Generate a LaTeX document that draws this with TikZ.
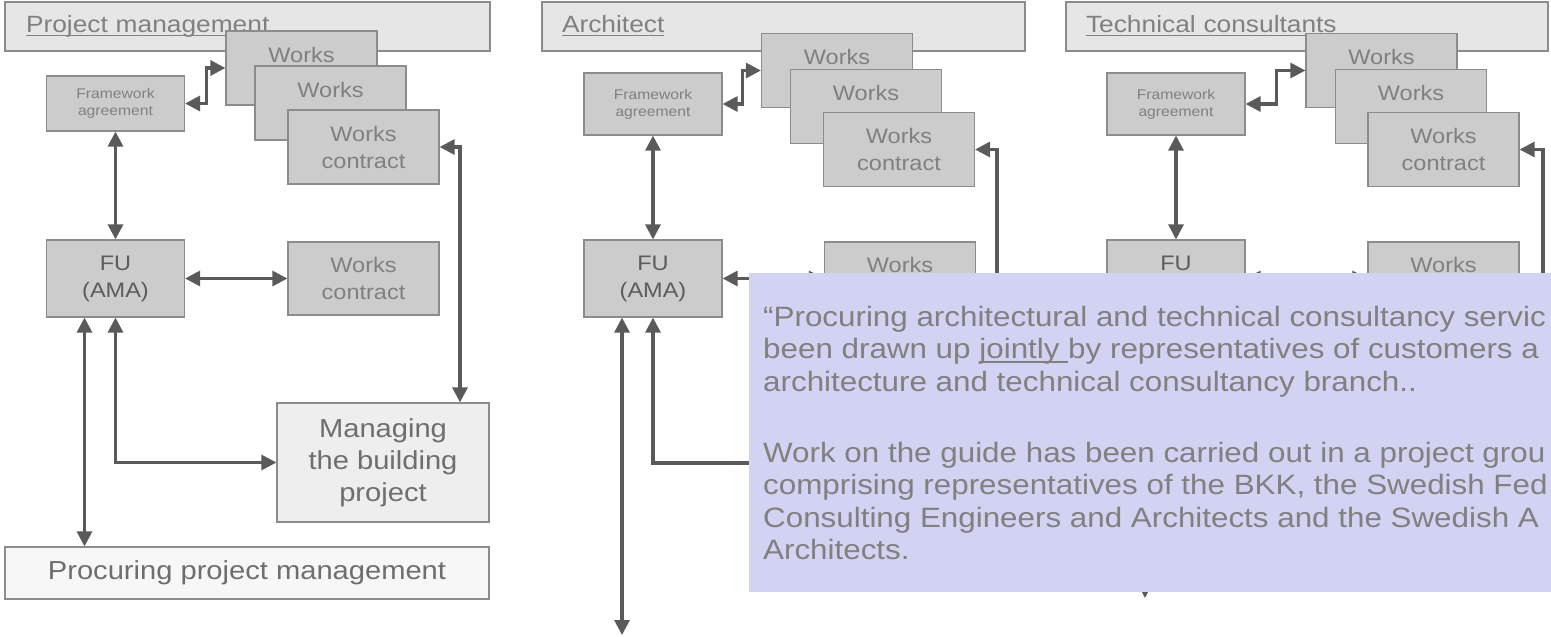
\documentclass[tikz,border=0pt]{standalone}
\usepackage{fontspec}
\setmainfont[FakeStretch=1.12]{Liberation Sans}
\usetikzlibrary{arrows.meta}
\definecolor{hdrfill}{HTML}{E6E6E6}
\definecolor{boxfill}{HTML}{CCCCCC}
\definecolor{mgfill}{HTML}{EEEEEE}
\definecolor{prfill}{HTML}{F7F7F7}
\definecolor{boxline}{HTML}{8C8C8C}
\definecolor{arrowgray}{HTML}{5A5A5A}
\definecolor{txtgray}{HTML}{808080}
\definecolor{midtxt}{HTML}{6E6E6E}
\definecolor{darktxt}{HTML}{5C5C5C}
\definecolor{notefill}{HTML}{D2D2F2}
\newcommand{\ulin}[1]{\setbox0\hbox{#1}\rlap{\rule[-0.14em]{\wd0}{0.06em}}\box0}

\begin{document}
\begin{tikzpicture}[x=1pt, y=-1pt]
  \tikzstyle{box}=[draw=boxline, line width=1.2pt, fill=boxfill, inner sep=0pt, align=center, text=txtgray]
  \tikzstyle{hdr}=[box, fill=hdrfill, minimum height=49pt, align=left, text height=17pt, text depth=4.5pt, font=\fontsize{23.5}{27}\selectfont]
  \tikzstyle{fw}=[box, minimum width=138pt, minimum height=62pt, font=\fontsize{14}{17}\selectfont]
  \tikzstyle{works}=[box, minimum width=151pt, minimum height=74pt, font=\fontsize{21}{27}\selectfont]
  \tikzstyle{fu}=[box, minimum width=138pt, minimum height=77pt, text=darktxt, font=\fontsize{21}{27}\selectfont]
  \tikzstyle{link}=[draw=arrowgray, line width=3.1pt, {Triangle[length=15pt,width=15pt]}-{Triangle[length=15pt,width=15pt]}]

  \useasboundingbox (0,0) rectangle (1551,637);

  % project management
  \node[hdr, minimum width=485pt, text width=443pt] (hdrA) at (247.5,26.5) {\ulin{Project management}};
  \node[fw, minimum height=55pt] (fwA) at (115.5,103.5) {Framework\\agreement};
  \node[works] (wkA1) at (301.5,68) {Works\\contract};
  \node[works] (wkA2) at (330.5,103) {Works\\contract};
  \node[works] (wkA3) at (363.5,147) {Works\\contract};
  \node[fu] (fuA) at (115.5,278.5) {FU\\(AMA)};
  \node[works, minimum height=73pt] (wkA4) at (363.5,278.5) {Works\\contract};
  \node[box, fill=mgfill, minimum width=212pt, minimum height=119pt, text=midtxt, font=\fontsize{26}{32}\selectfont] (mgA) at (383,462.5) {Managing\\the building\\project};
  \node[box, fill=prfill, minimum width=484pt, minimum height=52pt, text=midtxt, font=\fontsize{26}{30}\selectfont] (prA) at (247,573) {Procuring project management};

  \draw[link] (fwA.east) -- ++(21,0) |- (wkA1.west);
  \draw[link] (fwA.south) -- (fuA.north);
  \draw[link] (fuA.east) -- (wkA4.west);
  \draw[link] (wkA3.east) -| ([xshift=77pt]mgA.north);
  \draw[link] (fuA.south) |- (mgA.west);
  \draw[link] ([xshift=-31pt]fuA.south) -- ([xshift=-31pt]fuA.south |- prA.north);

  % architect
  \node[hdr, minimum width=483pt, text width=443pt] (hdrB) at (783.5,26.5) {\ulin{Architect}};
  \node[fw] (fwB) at (653,104) {Framework\\agreement};
  \node[works] (wkB1) at (837,70.5) {Works\\contract};
  \node[works] (wkB2) at (866,106.5) {Works\\contract};
  \node[works] (wkB3) at (899,149.5) {Works\\contract};
  \node[fu] (fuB) at (653,278.5) {FU\\(AMA)};
  \node[works, minimum height=73pt] (wkB4) at (900,278.5) {Works\\contract};
  \coordinate (endB1) at (997,420);
  \coordinate (endB2) at (820,463);
  \coordinate (endB3) at (622,635);

  \draw[link] (fwB.east) -- ++(20,0) |- (wkB1.west);
  \draw[link] (fwB.south) -- (fuB.north);
  \draw[link] (fuB.east) -- (wkB4.west);
  \draw[link] (wkB3.east) -| (endB1);
  \draw[link] (fuB.south) |- (endB2);
  \draw[link] ([xshift=-31pt]fuB.south) -- (endB3);

  % technical consultants
  \node[hdr, minimum width=482pt, text width=442pt] (hdrC) at (1307,26.5) {\ulin{Technical consultants}};
  \node[fw] (fwC) at (1176,104) {Framework\\agreement};
  \node[works] (wkC1) at (1381.5,70.5) {Works\\contract};
  \node[works] (wkC2) at (1411,106.5) {Works\\contract};
  \node[works] (wkC3) at (1443.5,149.5) {Works\\contract};
  \node[fu] (fuC) at (1176,278.5) {FU\\(AMA)};
  \node[works, minimum height=73pt] (wkC4) at (1443.5,278.5) {Works\\contract};
  \coordinate (endC1) at (1543,420);
  \coordinate (endC2) at (1145,598);

  \draw[link] (fwC.east) -- ++(31,0) |- (wkC1.west);
  \draw[link] (fwC.south) -- (fuC.north);
  \draw[link] (fuC.east) -- (wkC4.west);
  \draw[link] (wkC3.east) -| (endC1);
  \draw[link] ([xshift=-31pt]fuC.south) -- (endC2);

  % note on top
  \begin{scope}
    \clip (0,0) rectangle (1551,637);
    \node[fill=notefill, inner sep=0pt, minimum width=802pt, minimum height=319pt, anchor=north west] (note) at (749,273) {};
    \node[anchor=north west, inner sep=0pt, align=left, text=txtgray, font=\fontsize{28}{32.5}\selectfont] (notetxt) at (763,306)
      {“Procuring architectural and technical consultancy servic\\
       been drawn up \ulin{jointly\ }by representatives of customers a\\
       architecture and technical consultancy branch..\\[38.5pt]
       Work on the guide has been carried out in a project grou\\
       comprising representatives of the BKK, the Swedish Fed\\
       Consulting Engineers and Architects and the Swedish A\\
       Architects.};
  \end{scope}
\end{tikzpicture}
\end{document}
